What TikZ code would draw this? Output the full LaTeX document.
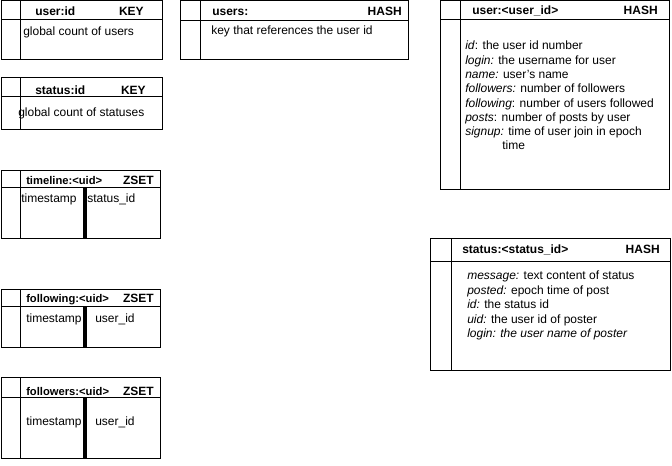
\documentclass[tikz,border=0pt]{standalone}
\usepackage{fontspec}
\setmainfont{Liberation Sans}
\usetikzlibrary{positioning}

\tikzset{
  txt/.style={anchor=base west,inner sep=0pt,font=\fontsize{9}{10.8}\selectfont},
  hdr/.style={txt,font=\fontsize{9}{10.8}\selectfont\bfseries},
  hdrr/.style={hdr,anchor=base east},
  zhdr/.style={hdr,font=\fontsize{8.4}{10}\selectfont\bfseries},
  frame/.style={draw=black,line width=0.75pt},
  divider/.style={draw=black,line width=2.6pt}
}

\begin{document}
\begin{tikzpicture}[x=0.75pt,y=-0.75pt]
  \useasboundingbox (0,0) rectangle (672,466);
  % table frames: left/top/right/bottom/header line/key column
  \foreach \xa/\ya/\xb/\yb/\yh/\xi in {1/1/162/60/20/20,1/78/162/130/97/20,1/171/160/239/188/20,
      1/290/160/348/307/20,1/378/160/459/398/20,180/1/408/60/21/200,440/1/669/190/20/460,430/239/670/371/262/451}
  {
    \draw[frame] (\xa,\ya) rectangle (\xb,\yb);
    \draw[frame] (\xa,\yh) -- (\xb,\yh);
    \draw[frame] (\xi,\ya) -- (\xi,\yb);
  }
  % score | member split of the sorted sets
  \foreach \ya/\yb in {188/239,307/348,398/459}
    \draw[divider] (85,\ya) -- (85,\yb);

  % keys
  \node[hdr] (userid) at (35,16) {user:id};
  \node[hdrr] (useridt) at (144,16) {KEY};
  \node[txt] (useridv) at (23,36) {global count of users};

  \node[hdr] (statusid) at (35,95) {status:id};
  \node[hdrr] (statusidt) at (146,95) {KEY};
  \node[txt] (statusidv) at (18,117) {global count of statuses};

  % sorted sets
  \node[zhdr] (timeline) at (26,185) {timeline:<uid>};
  \node[hdrr] (timelinet) at (154,185) {ZSET};
  \node[txt] (timelines) at (21,203) {timestamp};
  \node[txt] (timelinem) at (87,203) {status\_id};

  \node[zhdr] (following) at (26,303) {following:<uid>};
  \node[hdrr] (followingt) at (154,303) {ZSET};
  \node[txt] (followings) at (26,323) {timestamp};
  \node[txt] (followingm) at (95,323) {user\_id};

  \node[zhdr] (followers) at (26,396) {followers:<uid>};
  \node[hdrr] (followerst) at (154,396) {ZSET};
  \node[txt] (followerss) at (26,426) {timestamp};
  \node[txt] (followersm) at (95,426) {user\_id};

  % hashes
  \node[hdr] (users) at (212,16) {users:};
  \node[hdrr] (userst) at (402,16) {HASH};
  \node[txt] (usersv) at (211,35) {key that references the user id};

  \node[hdr] (user) at (472,15) {user:<user\_id>};
  \node[hdrr] (usert) at (658,15) {HASH};
  \foreach \line [count=\i] in {{\textit{id}: the user id number},{\textit{login:} the username for user},
      {\textit{name:} user's name},{\textit{followers:} number of followers},
      {\textit{following}: number of users followed},{\textit{posts}: number of posts by user},
      {\textit{signup:} time of user join in epoch}}
    \node[txt] (user\i) at (465,50+14.3*\i-14.3) {\line};
  \node[txt] (user8) at (502,150) {time};

  \node[hdr] (status) at (462,254) {status:<status\_id>};
  \node[hdrr] (statust) at (660,254) {HASH};
  \foreach \line [count=\i] in {{\textit{message:} text content of status},{\textit{posted:} epoch time of post},
      {\textit{id:} the status id},{\textit{uid:} the user id of poster},{\textit{login: the user name of poster}}}
    \node[txt] (status\i) at (467,280+14.5*\i-14.5) {\line};
\end{tikzpicture}
\end{document}
